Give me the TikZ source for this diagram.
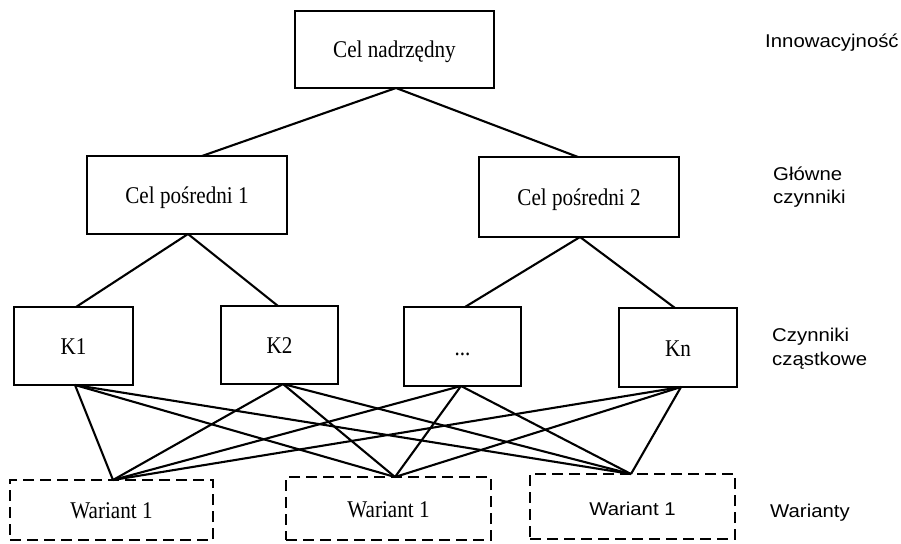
\documentclass[tikz,border=0pt]{standalone}
\usepackage{fontspec}
\setmainfont[FakeStretch=0.88]{Liberation Serif}
\newfontfamily\lblfont[FakeStretch=1.1]{Liberation Sans}
\begin{document}
\begin{tikzpicture}[x=1pt,y=-1pt,
  box/.style={draw,line width=2.2pt,inner sep=0pt,outer sep=0pt,text height=17pt,text depth=0pt,font=\fontsize{24}{28}\selectfont},
  dbox/.style={box,dash pattern=on 11pt off 6pt},
  lbl/.style={anchor=base west,inner sep=0pt,font=\lblfont\fontsize{18.5}{23}\selectfont},
  conn/.style={line width=2.1pt}]
\useasboundingbox (0,0) rectangle (901,543);
% boxes
\node[box,minimum width=199pt,minimum height=77pt] (top) at (394.5,49.5) {Cel nadrzędny};
\node[box,minimum width=200pt,minimum height=78pt] (c1) at (187,195) {Cel pośredni 1};
\node[box,minimum width=200pt,minimum height=80pt] (c2) at (579,197) {Cel pośredni 2};
\node[box,minimum width=119pt,minimum height=78pt] (k1) at (73.5,346) {K1};
\node[box,minimum width=117pt,minimum height=78pt] (k2) at (279.5,345) {K2};
\node[box,minimum width=117pt,minimum height=79pt] (kd) at (462.5,346.5) {...};
\node[box,minimum width=118pt,minimum height=79pt] (kn) at (678,347.5) {Kn};
\node[dbox,minimum width=203pt,minimum height=60pt] (w1) at (111.5,510) {Wariant 1};
\node[dbox,minimum width=205pt,minimum height=63pt] (w2) at (388.5,508.5) {Wariant 1};
\node[dbox,minimum width=205pt,minimum height=65pt,font=\lblfont\fontsize{18.5}{23}\selectfont] (w3) at (632.5,506.5) {Wariant 1};
% labels
\node[lbl] (l1) at (765,48) {Innowacyjność};
\node[lbl] (l2a) at (773,180) {Główne};
\node[lbl] (l2b) at (773,203) {czynniki};
\node[lbl] (l3a) at (772,341) {Czynniki};
\node[lbl] (l3b) at (772,365) {cząstkowe};
\node[lbl] (l4) at (770,517) {Warianty};
% tree connectors
\draw[conn] ([xshift=1.5pt]top.south) -- ([xshift=15pt]c1.north);
\draw[conn] ([xshift=1.5pt]top.south) -- ([xshift=-1pt]c2.north);
\draw[conn] ([xshift=1pt]c1.south) -- ([xshift=2.5pt]k1.north);
\draw[conn] ([xshift=1pt]c1.south) -- ([xshift=-1.5pt]k2.north);
\draw[conn] ([xshift=1pt]c2.south) -- ([xshift=2.5pt]kd.north);
\draw[conn] ([xshift=1pt]c2.south) -- ([xshift=-3pt]kn.north);
% bipartite connectors
\coordinate (b1) at ([xshift=1.5pt]k1.south);
\coordinate (b2) at ([xshift=3.5pt]k2.south);
\coordinate (b3) at ([xshift=-1.5pt]kd.south);
\coordinate (b4) at ([xshift=3pt]kn.south);
\coordinate (t1) at ([xshift=1.5pt]w1.north);
\coordinate (t2) at ([xshift=6.5pt]w2.north);
\coordinate (t3) at ([xshift=-1.5pt]w3.north);
\foreach \b in {b1,b2,b3,b4}{
  \foreach \t in {t1,t2,t3}{
    \draw[conn] (\b) -- (\t);
  }
}
\end{tikzpicture}
\end{document}
